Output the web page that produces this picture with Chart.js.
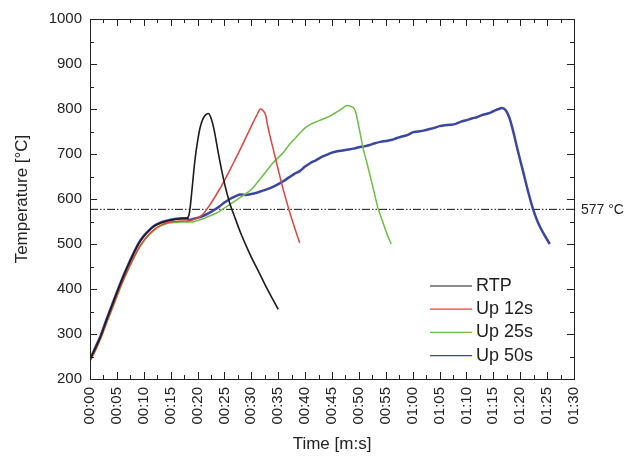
<!DOCTYPE html>
<html>
<head>
<meta charset="utf-8">
<script src="https://cdn.jsdelivr.net/npm/chart.js@4.4.1/dist/chart.umd.min.js"></script>
<style>
html,body{margin:0;padding:0;background:#fff;}
canvas{display:block;}
</style>
</head>
<body>
<canvas id="c" width="633" height="461"></canvas>
<script>
// ---- data (time in seconds, temperature in °C) ----
const seriesLabels = ['RTP', 'Up 12s', 'Up 25s', 'Up 50s'];
const seriesColors = ['#1c1c1c', '#e0443e', '#6dbd45', '#3b479f'];

const rtpTime = [0,1,2,3,4,5,6,7,8,9,10,11,12,13,14,15,16,17,18,18.5,19,19.5,20,20.5,21,21.5,22,22.5,23,24,25,26,27,28,29,30,31,32,33,34,35];
const rtpTemp = [243,268,295,328,360,392,422,450,476,500,517,530,540,546,550,553,555,556,557,570,625,685,728,760,778,787,790,780,758,693,635,590,557,525,497,471,447,423,399,377,355];

const up12Time = [0,1,2,3,4,5,6,7,8,9,10,11,12,13,14,15,16,17,18,19,20,21,22,23,24,25,26,27,28,29,30,31,31.7,32.2,32.7,33,34,35,36,37,38,39];
const up12Temp = [240,264,291,323,354,385,415,442,467,490,508,522,533,541,546,549,550,551,551,553,558,566,582,600,620,641,664,688,712,737,762,786,800,796,785,765,714,665,618,576,538,502];

const up25Time = [0,1,2,3,4,5,6,7,8,9,10,11,12,13,14,15,16,17,18,19,20,21,22,23,24,25,26,27,28,29,30,31,32,33,34,35,36,37,38,39,40,41,42,43,44,45,46,47,47.7,48.5,49.3,50,50.8,51.5,52.7,53.5,54.5,55.3,56];
const up25Temp = [240,263,290,322,352,383,413,440,465,488,506,520,531,539,544,547,548,549,549,549,552,556,561,566,572,580,588,596,604,612,621,635,650,665,680,692,704,720,733,746,758,766,771,776,781,787,794,802,808,806,797,760,712,680,622,582,547,520,500];

const up50Time = [0,1,2,3,4,5,6,7,8,9,10,11,12,13,14,15,16,17,18,18.5,19,20,21,22,23,24,25,26,27,28,29,30,31,32,33,34,35,36,37,38,39,40,41,42,43,44,45,46,47,48,49,50,51,52,53,54,55,56,57,58,59,60,61,62,63,64,65,66,67,68,69,70,71,72,73,74,75,76,76.6,77.3,78,78.7,79.6,80.6,81.5,82.4,83.3,84.3,85.5];
const up50Temp = [244,270,297,330,362,393,423,451,477,501,518,531,541,547,551,554,556,557,557,553,555,558,562,568,575,583,592,600,606,610,609,611,614,618,622,627,633,640,648,656,662,672,680,686,693,698,703,706,708,710,712,715,717,720,724,727,729,731,735,739,742,748,750,752,755,758,762,764,765,767,772,775,779,782,787,790,795,800,802,797,780,750,705,658,615,577,548,524,500];

const eutecticTemp = 577;
const xMin = 0, xMax = 90, xStep = 5;
const yMin = 200, yMax = 1000, yStep = 100;
const xTitle = 'Time [m:s]';
const yTitle = 'Temperature [°C]';
const refLabel = '577 °C';

// ---- build datasets ----
const times = [rtpTime, up12Time, up25Time, up50Time];
const temps = [rtpTemp, up12Temp, up25Temp, up50Temp];
const widths = [1.6, 1.5, 1.5, 2.5];
const datasets = seriesLabels.map((lab, i) => ({
  label: lab,
  data: times[i].map((t, j) => ({x: t, y: temps[i][j]})),
  borderColor: seriesColors[i],
  borderWidth: widths[i],
  pointRadius: 0,
  cubicInterpolationMode: 'monotone',
  fill: false
}));
datasets.push({
  label: '',
  isRef: true,
  data: [{x: xMin, y: eutecticTemp}, {x: xMax, y: eutecticTemp}],
  borderColor: '#111',
  borderWidth: 1,
  borderDash: [8, 2, 1.5, 2, 1.5, 2],
  pointRadius: 0
});

function fmtTime(v) {
  const m = Math.floor(v / 60), s = Math.round(v % 60);
  return String(m).padStart(2, '0') + ':' + String(s).padStart(2, '0');
}

const FONT = '"Liberation Sans", Arial, sans-serif';

const framePlugin = {
  id: 'frame',
  afterDatasetsDraw(chart) {
    const ctx = chart.ctx, a = chart.chartArea;
    const xs = chart.scales.x, ys = chart.scales.y;
    ctx.save();
    ctx.strokeStyle = '#222';
    ctx.lineWidth = 1;
    ctx.strokeRect(Math.round(a.left) + 0.5, Math.round(a.top) + 0.5, Math.round(a.right - a.left), Math.round(a.bottom - a.top));
    ctx.beginPath();
    for (let v = xMin; v <= xMax + 1e-9; v += xStep / 2) {
      const major = Math.abs(v / xStep - Math.round(v / xStep)) < 1e-6;
      const L = major ? 7 : 4;
      const px = Math.round(xs.getPixelForValue(v)) + 0.5;
      ctx.moveTo(px, a.bottom); ctx.lineTo(px, a.bottom - L);
      ctx.moveTo(px, a.top); ctx.lineTo(px, a.top + L);
    }
    for (let v = yMin; v <= yMax + 1e-9; v += yStep / 2) {
      const major = Math.abs(v / yStep - Math.round(v / yStep)) < 1e-6;
      const L = major ? 7 : 4;
      const py = Math.round(ys.getPixelForValue(v)) + 0.5;
      ctx.moveTo(a.left, py); ctx.lineTo(a.left + L, py);
      ctx.moveTo(a.right, py); ctx.lineTo(a.right - L, py);
    }
    ctx.stroke();

    ctx.fillStyle = '#222';
    ctx.font = '14px ' + FONT;
    ctx.textAlign = 'left';
    ctx.textBaseline = 'middle';
    ctx.fillText(refLabel, a.right + 7, ys.getPixelForValue(eutecticTemp) + 1);

    ctx.font = '18px ' + FONT;
    let row = 0;
    chart.data.datasets.forEach(ds => {
      if (ds.isRef) return;
      const y = a.top + 267 + row * 23.2;
      ctx.strokeStyle = ds.borderColor;
      ctx.lineWidth = 1.2;
      ctx.beginPath();
      ctx.moveTo(a.right - 144, y); ctx.lineTo(a.right - 102, y);
      ctx.stroke();
      ctx.fillStyle = '#222';
      ctx.fillText(ds.label, a.right - 98, y);
      row++;
    });
    ctx.restore();
  }
};

new Chart(document.getElementById('c'), {
  type: 'line',
  data: { datasets },
  options: {
    responsive: false,
    animation: false,
    layout: { padding: { top: 19, right: 59, left: 0, bottom: 0 } },
    plugins: { legend: { display: false }, tooltip: { enabled: false } },
    scales: {
      x: {
        type: 'linear', min: xMin, max: xMax,
        grid: { display: false, drawTicks: false },
        border: { display: false },
        ticks: {
          stepSize: xStep, minRotation: 90, maxRotation: 90, padding: 8,
          color: '#222', font: { family: FONT, size: 15 },
          callback: v => fmtTime(v)
        },
        title: { display: true, text: xTitle, color: '#222', font: { family: FONT, size: 17 }, padding: { top: 0, bottom: 6 } },
        afterFit(s) { s.height = 82; }
      },
      y: {
        type: 'linear', min: yMin, max: yMax,
        grid: { display: false, drawTicks: false },
        border: { display: false },
        ticks: { stepSize: yStep, padding: 8, color: '#222', font: { family: FONT, size: 15 }, callback: v => String(v) },
        title: { display: true, text: yTitle, color: '#222', font: { family: FONT, size: 17 }, padding: { top: 12, bottom: 0 } },
        afterFit(s) { s.width = 90; }
      }
    }
  },
  plugins: [framePlugin]
});
</script>
</body>
</html>
